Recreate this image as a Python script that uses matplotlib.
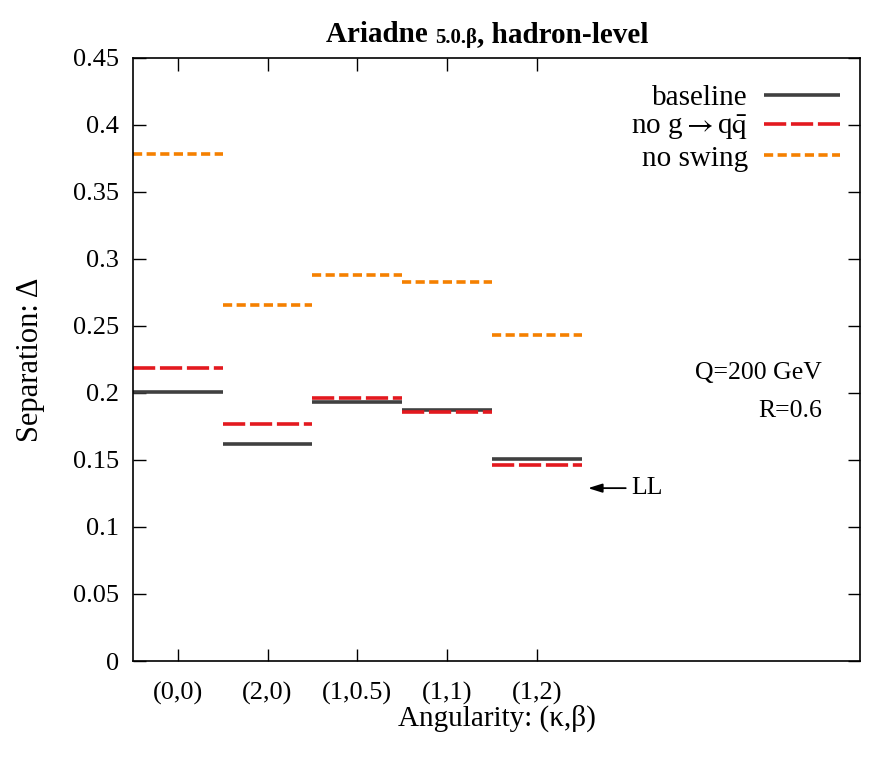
import matplotlib
matplotlib.use("Agg")
import matplotlib.pyplot as plt

# data
categories = ["(0,0)", "(2,0)", "(1,0.5)", "(1,1)", "(1,2)"]
baseline = [0.201, 0.162, 0.193, 0.187, 0.151]
no_gqq = [0.219, 0.177, 0.196, 0.186, 0.146]
no_swing = [0.378, 0.266, 0.288, 0.283, 0.243]
ll_value = 0.129

plt.rcParams['font.family'] = ['Liberation Serif', 'DejaVu Serif']
plt.rcParams['mathtext.fontset'] = 'stix'
plt.rcParams['lines.scale_dashes'] = False

fig = plt.figure(figsize=(8.86, 7.67), dpi=100)
ax = fig.add_axes([0.150, 0.1382, 0.8207, 0.7862])

series = [
    (baseline, "baseline", "#404040", None),
    (no_gqq, r"no g$\rightarrow$q$\bar{\mathrm{q}}$", "#e3191f", (0, (16, 3.4))),
    (no_swing, "no swing", "#f58000", (0, (6.6, 3.2))),
]

for vals, lab, col, ls in series:
    for i, v in enumerate(vals):
        kw = dict(color=col, lw=2.6, solid_capstyle='butt', dash_capstyle='butt')
        if ls is not None:
            kw['linestyle'] = ls
        if i == 0:
            kw['label'] = lab
        ax.plot([i - 0.5, i + 0.5], [v, v], **kw)

ax.set_xlim(-0.5, 7.6)
ax.set_ylim(0, 0.45)
ax.set_xticks(range(len(categories)))
ax.set_xticklabels(categories)
ax.set_yticks([0, 0.05, 0.1, 0.15, 0.2, 0.25, 0.3, 0.35, 0.4, 0.45])
ax.set_yticklabels(["0", "0.05", "0.1", "0.15", "0.2", "0.25", "0.3", "0.35", "0.4", "0.45"])
ax.tick_params(direction='in', length=9, width=1, top=True, right=True,
               labelsize=19, pad=10)
ax.tick_params(axis='x', pad=15)
for s in ax.spines.values():
    s.set_linewidth(1.2)

ax.set_xlabel("Angularity: (κ,β)", fontsize=21, labelpad=0)
ax.set_ylabel("Separation: Δ", fontsize=22, labelpad=20)

leg = ax.legend(loc='upper right', markerfirst=False, frameon=False, fontsize=21,
                handlelength=2.6, handletextpad=0.55, labelspacing=0.1,
                bbox_to_anchor=(1.0, 0.99), borderaxespad=0.3)

ax.text(0.948, 0.477, "Q=200 GeV", transform=ax.transAxes, ha='right',
        va='center', fontsize=18.5)
ax.text(0.948, 0.414, "R=0.6", transform=ax.transAxes, ha='right',
        va='center', fontsize=18.5)

ax.annotate("", xy=(4.57, ll_value), xytext=(4.99, ll_value),
            arrowprops=dict(arrowstyle='-|>,head_length=0.7,head_width=0.22',
                            color='black', lw=1.3,
                            mutation_scale=12, shrinkA=0, shrinkB=0))
ax.text(5.05, ll_value, "LL", ha='left', va='center', fontsize=18.5)

# title with small "5.0.β"
t1 = fig.text(0.368, 0.945, "Ariadne ", fontsize=21, fontweight='bold',
              ha='left', va='baseline')
t2 = ax.annotate("5.0.β", xy=(1, 0), xycoords=t1,
                 fontsize=15, fontweight='bold', ha='left', va='bottom',
                 annotation_clip=False)
ax.annotate(", hadron-level", xy=(1, 0), xycoords=t2, fontsize=21,
            fontweight='bold', ha='left', va='bottom', annotation_clip=False)

fig.savefig("out.png", dpi=100)
